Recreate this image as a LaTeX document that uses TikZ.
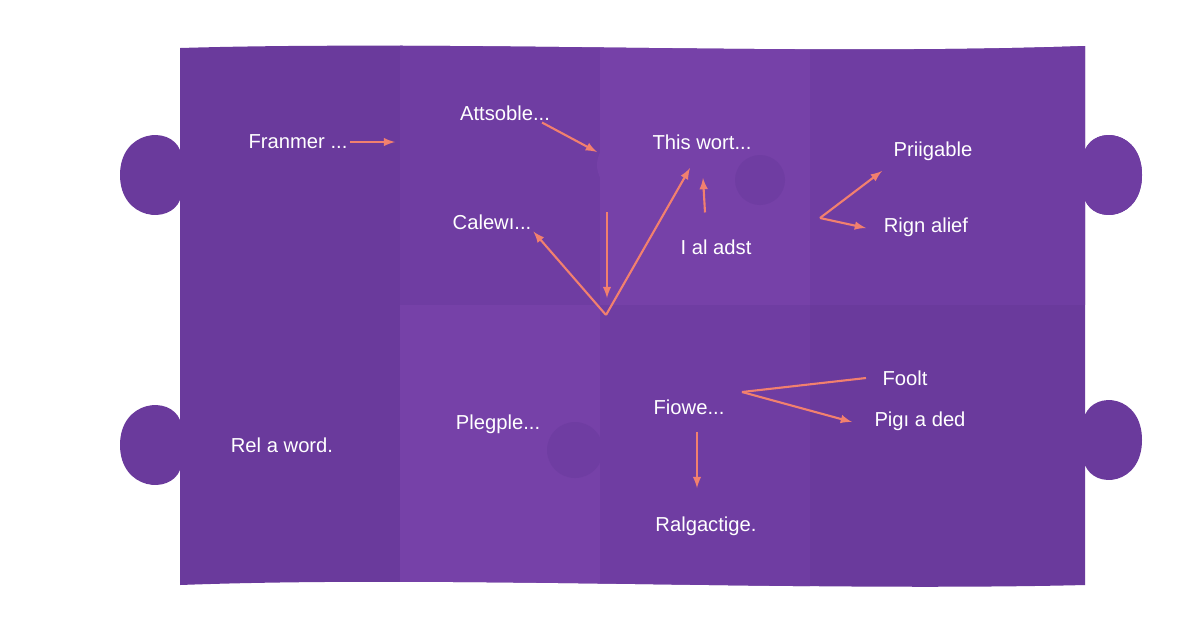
\documentclass[tikz,border=0pt]{standalone}
\usepackage{fontspec}
\setmainfont{Liberation Sans}
\definecolor{pbase}{HTML}{6A3A9C}
\definecolor{plight}{HTML}{7641A8}
\definecolor{pmid}{HTML}{6F3DA2}
\definecolor{arr}{HTML}{F2806E}
\begin{document}
\begin{tikzpicture}[x=0.02cm,y=-0.02cm,
  lbl/.style={text=white,font=\fontsize{11.5}{13}\selectfont,inner sep=1pt},
  ar/.style={draw=arr,line width=1.2pt,-{latex}},
  ln/.style={draw=arr,line width=1.2pt}]
\useasboundingbox (0,0) rectangle (1200,630);
\fill[white] (0,0) rectangle (1200,630);
\def\outline{(180,48) .. controls (450,40) and (800,56) .. (1085,46)
  -- (1085,150) .. controls (1095,125) and (1142,130) .. (1142,175)
  .. controls (1142,220) and (1095,225) .. (1085,200)
  -- (1085,415) .. controls (1095,390) and (1142,395) .. (1142,440)
  .. controls (1142,485) and (1095,490) .. (1085,465)
  -- (1085,585) .. controls (800,592) and (450,575) .. (180,585)
  -- (180,470) .. controls (170,495) and (120,490) .. (120,445)
  .. controls (120,400) and (170,395) .. (180,420)
  -- (180,200) .. controls (170,225) and (120,220) .. (120,175)
  .. controls (120,130) and (170,125) .. (180,150) -- cycle}
\fill[pbase] \outline;
\begin{scope}
\clip \outline;
\fill[pmid] (400,0) rectangle (600,305);
\fill[plight] (600,0) rectangle (810,305);
\fill[plight] (400,305) rectangle (600,630);
\fill[pmid] (600,305) rectangle (810,630);
\fill[pmid] (810,0) rectangle (1200,305);
\fill[pmid] (760,180) circle (25);
\fill[plight] (625,165) circle (28);
\fill[pmid] (575,450) circle (28);
\end{scope}
% labels
\node[lbl] (fr) at (298,142) {Franmer ...};
\node[lbl] (at) at (505,113) {Attsoble...};
\node[lbl] (th) at (702,142) {This wort...};
\node[lbl] (pr) at (933,151) {Priigable};
\node[lbl] (ca) at (492,222) {Calewı...};
\node[lbl] (ia) at (716,247) {I al adst};
\node[lbl] (ri) at (926,227) {Rign alief};
\node[lbl] (fi) at (689,407) {Fiowe...};
\node[lbl] (fo) at (905,378) {Foolt};
\node[lbl] (pi) at (920,421) {Pigı a ded};
\node[lbl] (pl) at (498,424) {Plegple...};
\node[lbl] (re) at (282,445) {Rel a word.};
\node[lbl] (ra) at (706,526) {Ralgactige.};
% arrows
\coordinate (c1) at (395,142);
\coordinate (c2) at (597,152);
\coordinate (hub) at (606,315);
\coordinate (d1) at (607,212);
\coordinate (d2) at (607,298);
\coordinate (c3) at (690,168);
\coordinate (c4) at (703,178);
\coordinate (c5) at (882,171);
\coordinate (c6) at (866,228);
\coordinate (c7) at (866,378);
\coordinate (c8) at (852,422);
\coordinate (c9) at (697,488);
\coordinate (rs) at (820,218);
\coordinate (fs) at (742,392);
\draw[ar] (fr.east) -- (c1);
\draw[ar] (at.south east) ++(-10,0) -- (c2);
\draw[ar] (hub) -- (ca.south east);
\draw[ar] (d1) -- (d2);
\draw[ar] (hub) -- (c3);
\draw[ar] (ia.north) ++(-11,-25) -- (c4);
\draw[ar] (rs) -- (c5);
\draw[ar] (rs) -- (c6);
\draw[ln] (fs) -- (c7);
\draw[ar] (fs) -- (c8);
\draw[ar] (fi.south) ++(8,15) -- (c9);
\end{tikzpicture}
\end{document}
